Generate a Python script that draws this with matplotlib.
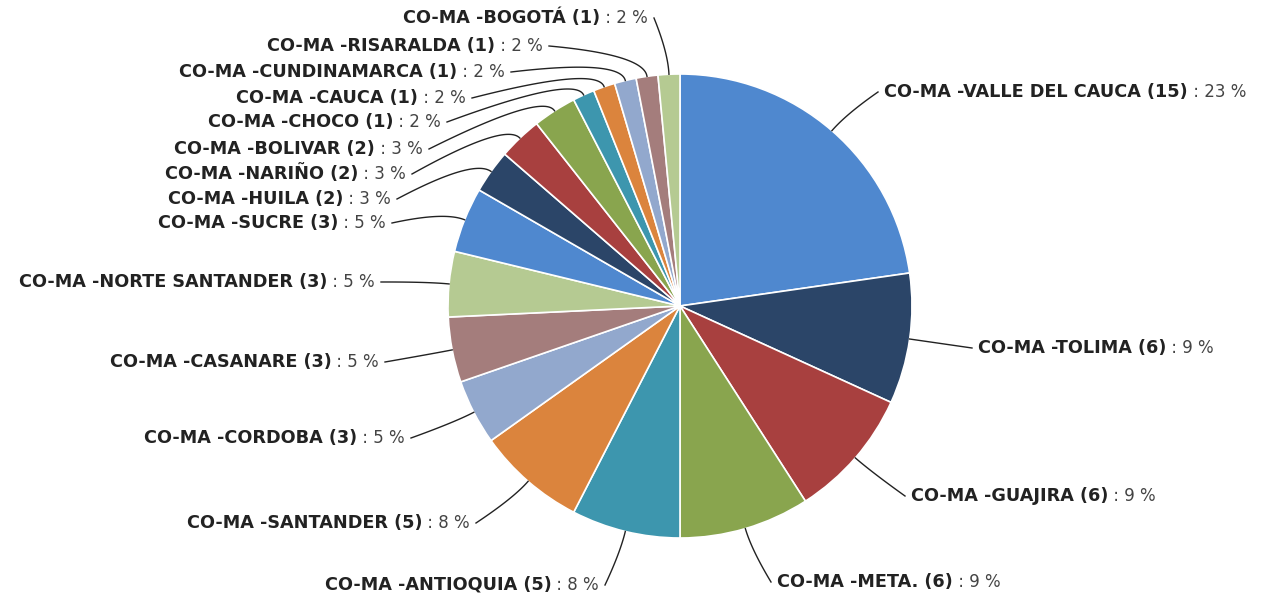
import matplotlib
matplotlib.use("Agg")
import matplotlib.pyplot as plt
import numpy as np

# ---- data ----
names = ["CO-MA -VALLE DEL CAUCA", "CO-MA -TOLIMA", "CO-MA -GUAJIRA", "CO-MA -META.",
         "CO-MA -ANTIOQUIA", "CO-MA -SANTANDER", "CO-MA -CORDOBA", "CO-MA -CASANARE",
         "CO-MA -NORTE SANTANDER", "CO-MA -SUCRE", "CO-MA -HUILA", "CO-MA -NARIÑO",
         "CO-MA -BOLIVAR", "CO-MA -CHOCO", "CO-MA -CAUCA", "CO-MA -CUNDINAMARCA",
         "CO-MA -RISARALDA", "CO-MA -BOGOTÁ"]
counts = [15, 6, 6, 6, 5, 5, 3, 3, 3, 3, 2, 2, 2, 1, 1, 1, 1, 1]
percents = [23, 9, 9, 9, 8, 8, 5, 5, 5, 5, 3, 3, 3, 2, 2, 2, 2, 2]

palette = ["#4f88cf", "#2b4568", "#a8403f", "#89a54e", "#3d96ae",
           "#db843d", "#92a8cd", "#a47d7c", "#b5ca92"]
colors = [palette[i % len(palette)] for i in range(len(counts))]

# ---- layout (pixel coords, y from top) ----
W, H = 1262, 596
cx, cy, R = 680, 306, 232
# (side, x anchor, y) : right side -> x is text start ; left side -> x is text end
label_pos = [("R", 884, 92), ("R", 978, 348), ("R", 911, 496), ("R", 777, 582),
             ("L", 599, 585), ("L", 470, 523), ("L", 405, 438), ("L", 379, 362),
             ("L", 375, 282), ("L", 386, 223), ("L", 391, 199), ("L", 406, 174),
             ("L", 423, 149), ("L", 441, 122), ("L", 466, 98), ("L", 505, 72),
             ("L", 543, 46), ("L", 648, 18)]

fig = plt.figure(figsize=(W / 100, H / 100), dpi=100)
ax = fig.add_axes([0, 0, 1, 1])
ax.set_xlim(0, W)
ax.set_ylim(0, H)
ax.axis("off")

wedges, _ = ax.pie(counts, colors=colors, startangle=90, counterclock=False,
                   center=(cx, H - cy), radius=R,
                   wedgeprops=dict(edgecolor="white", linewidth=1.2))
ax.set_xlim(0, W)
ax.set_ylim(0, H)
ax.set_aspect("equal")

renderer = fig.canvas.get_renderer()
fs = 12.7
fam = "DejaVu Sans"
for i, w in enumerate(wedges):
    side, lx, ly = label_pos[i]
    yd = H - ly
    name = f"{names[i]} ({counts[i]})"
    suffix = f" : {percents[i]} %"
    if side == "R":
        t1 = ax.text(lx, yd, name, ha="left", va="center", fontsize=fs,
                     fontweight="bold", family=fam, color="#222222")
        bb = t1.get_window_extent(renderer)
        ax.text(lx + bb.width, yd, suffix, ha="left", va="center", fontsize=fs - 0.7,
                family=fam, color="#444444")
        end = (lx - 6, yd)
    else:
        t2 = ax.text(lx, yd, suffix, ha="right", va="center", fontsize=fs - 0.7,
                     family=fam, color="#444444")
        bb = t2.get_window_extent(renderer)
        ax.text(lx - bb.width, yd, name, ha="right", va="center", fontsize=fs,
                fontweight="bold", family=fam, color="#222222")
        end = (lx + 6, yd)
    ang = np.deg2rad((w.theta1 + w.theta2) / 2)
    d = np.array([np.cos(ang), np.sin(ang)])
    c = np.array([cx, H - cy])
    p0 = c + R * d
    p1 = c + (R + 22) * d
    p2 = np.array(end)
    t = np.linspace(0, 1, 40)[:, None]
    curve = (1 - t) ** 2 * p0 + 2 * (1 - t) * t * p1 + t ** 2 * p2
    ax.plot(curve[:, 0], curve[:, 1], color="#222222", lw=1.0)

fig.savefig("out.png", dpi=100)
